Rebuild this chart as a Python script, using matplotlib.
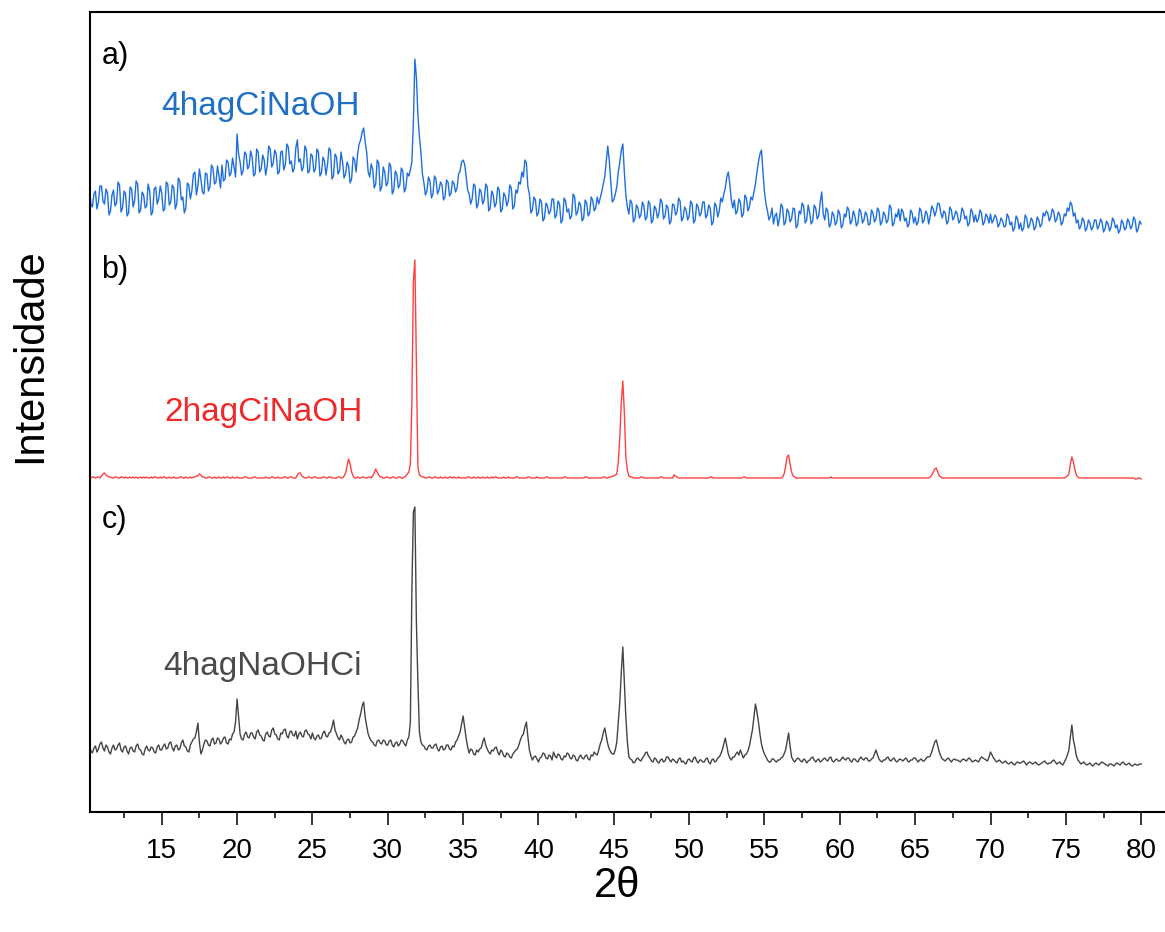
import numpy as np
import matplotlib
matplotlib.use("Agg")
import matplotlib.pyplot as plt
from matplotlib.ticker import MultipleLocator

# 2-theta grid (degrees), 0.1 deg step from 10 to 80
two_theta = np.round(np.arange(10.0, 80.0001, 0.1), 1)

# a) 4hagCiNaOH  (one row per degree)
int_4hagCiNaOH = [
    112, 121, 124, 108, 105, 118, 121, 103, 110, 126,
    126, 111, 108, 123, 119, 97, 101, 117, 122, 106,
    109, 130, 127, 100, 104, 121, 118, 96, 99, 125,
    123, 105, 111, 131, 128, 99, 102, 120, 117, 104,
    106, 128, 121, 97, 100, 123, 125, 108, 113, 126,
    119, 101, 103, 130, 128, 107, 110, 127, 124, 103,
    108, 134, 131, 112, 115, 99, 104, 129, 127, 113,
    121, 138, 140, 117, 126, 143, 133, 120, 118, 139,
    138, 121, 125, 147, 144, 128, 130, 146, 136, 124,
    147, 131, 133, 152, 150, 136, 139, 154, 145, 135,
    178, 158, 150, 137, 141, 160, 158, 143, 146, 161,
    155, 136, 138, 163, 160, 140, 143, 157, 152, 137,
    146, 166, 163, 145, 149, 162, 158, 138, 140, 160,
    161, 142, 147, 168, 165, 148, 151, 140, 144, 164,
    172, 150, 153, 141, 145, 166, 162, 139, 141, 158,
    156, 140, 143, 163, 160, 136, 139, 155, 151, 137,
    147, 164, 162, 133, 136, 158, 155, 138, 141, 160,
    150, 134, 138, 150, 146, 129, 133, 155, 152, 140,
    158, 168, 172, 180, 184, 170, 160, 140, 135, 148,
    143, 124, 128, 152, 149, 121, 125, 145, 140, 126,
    129, 149, 146, 118, 122, 141, 138, 124, 127, 144,
    141, 120, 124, 139, 136, 142, 150, 190, 253, 235,
    197, 175, 160, 138, 129, 117, 121, 135, 131, 114,
    118, 136, 133, 118, 122, 130, 127, 112, 115, 132,
    130, 116, 119, 131, 128, 120, 124, 138, 141, 150,
    152, 148, 136, 122, 118, 108, 113, 128, 126, 104,
    108, 123, 120, 108, 112, 128, 125, 101, 104, 121,
    117, 105, 109, 125, 122, 100, 103, 119, 116, 106,
    111, 127, 124, 103, 106, 122, 119, 130, 128, 140,
    135, 152, 149, 125, 118, 99, 102, 115, 112, 96,
    99, 113, 110, 91, 94, 109, 106, 98, 101, 113,
    113, 94, 97, 111, 108, 89, 92, 114, 111, 100,
    103, 93, 96, 118, 115, 97, 100, 110, 107, 91,
    94, 112, 109, 96, 99, 115, 112, 101, 104, 115,
    108, 114, 120, 128, 135, 150, 166, 152, 130, 110,
    112, 118, 125, 140, 150, 162, 168, 140, 117, 105,
    98, 112, 109, 90, 93, 107, 104, 94, 97, 110,
    106, 92, 95, 111, 108, 89, 92, 106, 103, 94,
    99, 113, 110, 93, 96, 107, 104, 88, 91, 108,
    107, 97, 100, 114, 111, 91, 94, 105, 102, 92,
    96, 111, 108, 89, 92, 108, 105, 96, 99, 110,
    110, 94, 97, 107, 104, 87, 90, 109, 106, 95,
    101, 114, 110, 118, 124, 135, 140, 128, 112, 104,
    112, 98, 101, 113, 110, 95, 98, 117, 114, 101,
    105, 115, 112, 120, 128, 140, 150, 158, 162, 140,
    120, 108, 101, 92, 96, 104, 88, 96, 99, 86,
    94, 108, 105, 87, 90, 103, 100, 90, 93, 104,
    103, 84, 87, 101, 98, 109, 106, 89, 92, 107,
    99, 88, 91, 107, 104, 93, 96, 110, 120, 98,
    92, 104, 101, 85, 88, 100, 97, 87, 90, 102,
    98, 84, 87, 98, 95, 105, 102, 88, 91, 101,
    96, 86, 89, 103, 100, 89, 92, 100, 97, 87,
    88, 102, 99, 90, 93, 104, 101, 87, 90, 100,
    97, 89, 92, 107, 104, 86, 89, 98, 95, 103,
    91, 103, 100, 91, 94, 85, 88, 102, 99, 89,
    95, 87, 90, 104, 101, 89, 92, 101, 98, 88,
    96, 106, 103, 96, 101, 109, 108, 99, 94, 101,
    99, 88, 91, 105, 102, 92, 95, 101, 98, 89,
    92, 104, 101, 93, 96, 86, 89, 103, 100, 90,
    97, 90, 93, 102, 99, 87, 90, 98, 95, 89,
    98, 89, 92, 97, 94, 85, 88, 94, 91, 85,
    86, 98, 95, 87, 90, 81, 84, 96, 93, 83,
    89, 81, 84, 97, 94, 84, 87, 94, 91, 82,
    85, 95, 92, 85, 88, 99, 96, 101, 99, 91,
    95, 103, 100, 90, 93, 100, 97, 87, 90, 98,
    96, 104, 101, 110, 107, 96, 99, 89, 92, 83,
    86, 94, 91, 81, 84, 92, 89, 82, 85, 92,
    92, 83, 86, 93, 90, 80, 83, 91, 88, 81,
    85, 94, 91, 84, 87, 79, 82, 92, 89, 82,
    84, 93, 90, 83, 86, 95, 92, 80, 83, 91,
    88,
]

# b) 2hagCiNaOH
int_2hagCiNaOH = [
    34, 35, 34, 34, 35, 35, 34, 35, 35, 34,
    36, 38, 39, 37, 36, 35, 35, 34, 34, 35,
    35, 34, 34, 35, 35, 34, 35, 34, 34, 35,
    34, 35, 34, 35, 34, 34, 35, 34, 35, 34,
    35, 34, 34, 35, 34, 35, 35, 34, 34, 35,
    34, 35, 35, 34, 34, 35, 34, 34, 35, 34,
    34, 34, 35, 35, 34, 34, 35, 34, 34, 35,
    34, 35, 35, 36, 36, 38, 37, 35, 35, 34,
    34, 35, 35, 34, 34, 35, 34, 34, 35, 34,
    34, 35, 34, 35, 35, 34, 34, 35, 34, 34,
    35, 34, 34, 34, 34, 35, 35, 34, 34, 34,
    34, 35, 35, 34, 34, 34, 34, 34, 34, 35,
    34, 34, 34, 35, 35, 34, 34, 35, 34, 34,
    34, 35, 35, 34, 34, 35, 35, 34, 34, 34,
    37, 39, 39, 36, 35, 34, 34, 35, 35, 34,
    34, 35, 35, 34, 34, 34, 34, 35, 35, 34,
    34, 35, 35, 34, 34, 34, 34, 35, 35, 34,
    34, 36, 39, 46, 53, 48, 40, 36, 34, 34,
    35, 34, 34, 35, 35, 34, 34, 35, 35, 34,
    36, 39, 43, 40, 37, 35, 35, 34, 34, 35,
    35, 34, 34, 35, 35, 34, 34, 35, 35, 34,
    34, 35, 36, 38, 40, 48, 110, 230, 252, 150,
    45, 37, 36, 35, 35, 34, 34, 35, 35, 34,
    34, 35, 35, 34, 34, 35, 34, 34, 35, 34,
    34, 35, 35, 34, 35, 34, 34, 35, 34, 34,
    34, 34, 34, 35, 35, 34, 34, 35, 34, 34,
    35, 34, 34, 35, 34, 34, 35, 34, 34, 35,
    34, 35, 35, 34, 34, 34, 34, 35, 34, 34,
    35, 34, 34, 34, 34, 35, 35, 34, 34, 34,
    34, 34, 34, 35, 35, 34, 34, 34, 34, 35,
    34, 34, 34, 34, 34, 35, 35, 34, 34, 34,
    34, 34, 34, 34, 34, 34, 34, 35, 35, 34,
    34, 34, 34, 34, 34, 34, 34, 34, 34, 34,
    34, 35, 35, 34, 34, 34, 34, 34, 34, 34,
    34, 34, 34, 35, 35, 34, 34, 35, 35, 36,
    36, 37, 38, 50, 75, 110, 131, 100, 55, 42,
    36, 35, 35, 34, 34, 34, 34, 34, 35, 35,
    34, 34, 34, 34, 34, 34, 34, 34, 34, 34,
    34, 35, 35, 34, 34, 34, 34, 34, 34, 34,
    37, 36, 35, 34, 34, 34, 34, 34, 34, 34,
    34, 34, 34, 34, 34, 34, 34, 34, 34, 34,
    34, 34, 34, 34, 35, 35, 34, 34, 34, 34,
    34, 34, 34, 34, 34, 34, 34, 34, 34, 34,
    34, 34, 34, 34, 34, 34, 35, 35, 34, 34,
    34, 34, 34, 34, 34, 34, 34, 34, 34, 34,
    34, 34, 34, 34, 34, 34, 34, 34, 34, 34,
    34, 34, 35, 38, 45, 55, 57, 48, 40, 36,
    35, 34, 34, 34, 34, 34, 34, 34, 34, 34,
    34, 34, 34, 34, 34, 34, 34, 34, 34, 34,
    34, 34, 34, 34, 35, 34, 34, 34, 34, 34,
    34, 34, 34, 34, 34, 34, 34, 34, 34, 34,
    34, 34, 34, 34, 34, 34, 34, 34, 34, 34,
    34, 34, 34, 34, 34, 34, 34, 34, 34, 34,
    34, 34, 34, 34, 34, 34, 34, 34, 34, 34,
    34, 34, 34, 34, 34, 34, 34, 34, 34, 34,
    34, 34, 34, 34, 34, 34, 34, 34, 34, 34,
    35, 37, 40, 43, 44, 40, 36, 35, 34, 34,
    34, 34, 34, 34, 34, 34, 34, 34, 34, 34,
    34, 34, 34, 34, 34, 34, 34, 34, 34, 34,
    34, 34, 34, 34, 34, 34, 34, 34, 34, 34,
    34, 34, 34, 34, 34, 34, 34, 34, 34, 34,
    34, 34, 34, 34, 34, 34, 34, 34, 34, 34,
    34, 34, 34, 34, 34, 34, 34, 34, 34, 34,
    34, 34, 34, 34, 34, 34, 34, 34, 34, 34,
    34, 34, 34, 34, 34, 34, 34, 34, 34, 34,
    35, 36, 38, 48, 55, 50, 42, 37, 35, 34,
    34, 34, 34, 34, 34, 34, 34, 34, 34, 34,
    34, 34, 34, 34, 34, 34, 34, 34, 34, 34,
    34, 34, 34, 34, 34, 34, 34, 34, 34, 34,
    34, 34, 34, 34, 34, 34, 33, 33, 34, 34,
    33,
]

# c) 4hagNaOHCi
int_4hagNaOHCi = [
    62, 66, 68, 61, 59, 64, 66, 60, 63, 68,
    70, 64, 61, 67, 65, 60, 58, 64, 67, 62,
    63, 67, 69, 62, 60, 65, 66, 61, 58, 64,
    65, 61, 60, 66, 68, 63, 62, 58, 57, 63,
    66, 62, 61, 65, 64, 60, 59, 65, 67, 62,
    62, 66, 68, 63, 64, 69, 70, 64, 61, 66,
    67, 62, 63, 69, 72, 66, 65, 61, 60, 67,
    70, 73, 74, 80, 89, 70, 58, 62, 68, 72,
    71, 67, 66, 72, 74, 68, 69, 74, 73, 68,
    70, 74, 75, 69, 68, 73, 72, 78, 80, 90,
    113, 95, 78, 73, 72, 78, 80, 75, 74, 79,
    79, 75, 73, 80, 82, 77, 76, 72, 71, 78,
    80, 76, 75, 82, 84, 78, 77, 73, 72, 79,
    78, 82, 83, 76, 74, 80, 81, 77, 76, 81,
    73, 78, 80, 76, 75, 81, 82, 78, 77, 73,
    79, 74, 72, 76, 77, 73, 74, 79, 81, 76,
    75, 79, 80, 85, 92, 82, 78, 74, 72, 77,
    74, 70, 68, 72, 73, 69, 70, 75, 76, 80,
    84, 92, 98, 106, 110, 95, 86, 78, 74, 71,
    70, 67, 66, 71, 72, 69, 68, 72, 71, 67,
    67, 71, 72, 67, 65, 69, 70, 66, 68, 72,
    71, 68, 66, 72, 75, 90, 220, 300, 305, 190,
    130, 80, 70, 67, 66, 63, 62, 66, 67, 64,
    64, 67, 68, 63, 61, 65, 66, 62, 63, 67,
    67, 63, 62, 66, 65, 70, 72, 76, 80, 88,
    96, 85, 74, 65, 59, 63, 62, 58, 57, 62,
    60, 63, 64, 70, 74, 67, 63, 60, 58, 62,
    61, 64, 65, 60, 57, 62, 60, 56, 55, 59,
    58, 55, 54, 58, 60, 62, 63, 67, 72, 76,
    78, 85, 90, 75, 62, 56, 52, 55, 56, 53,
    50, 54, 55, 59, 58, 54, 53, 57, 56, 52,
    60, 56, 54, 58, 57, 53, 52, 56, 55, 59,
    58, 54, 53, 57, 56, 52, 51, 55, 57, 54,
    53, 56, 57, 53, 52, 57, 56, 60, 58, 57,
    62, 68, 72, 79, 84, 76, 68, 63, 60, 58,
    58, 62, 70, 90, 110, 140, 165, 130, 95, 70,
    55, 53, 52, 49, 50, 53, 54, 52, 51, 54,
    56, 59, 60, 56, 54, 51, 50, 54, 53, 50,
    49, 52, 53, 50, 51, 55, 55, 52, 50, 53,
    52, 50, 49, 53, 54, 50, 51, 49, 48, 52,
    53, 51, 50, 54, 55, 51, 49, 52, 52, 50,
    50, 53, 54, 50, 48, 52, 53, 50, 51, 54,
    55, 58, 62, 68, 74, 66, 58, 54, 52, 55,
    55, 58, 60, 57, 62, 58, 54, 57, 58, 61,
    66, 74, 82, 95, 108, 100, 90, 78, 68, 62,
    58, 55, 52, 50, 50, 53, 53, 51, 50, 52,
    52, 54, 55, 58, 62, 70, 79, 66, 55, 52,
    50, 52, 54, 53, 51, 50, 53, 52, 49, 51,
    52, 54, 55, 52, 50, 52, 53, 50, 51, 53,
    54, 52, 51, 54, 55, 51, 50, 52, 53, 51,
    51, 53, 55, 53, 52, 54, 54, 51, 50, 53,
    53, 51, 50, 53, 55, 53, 52, 54, 54, 51,
    51, 53, 54, 58, 62, 57, 53, 51, 50, 52,
    52, 54, 55, 52, 51, 53, 54, 51, 50, 52,
    53, 52, 51, 53, 54, 51, 50, 52, 52, 54,
    54, 52, 50, 52, 53, 51, 51, 53, 55, 55,
    56, 60, 65, 70, 72, 66, 60, 56, 53, 52,
    51, 53, 54, 52, 50, 52, 53, 52, 52, 51,
    50, 52, 53, 52, 51, 53, 54, 52, 50, 51,
    52, 51, 50, 53, 55, 54, 53, 52, 51, 55,
    60, 57, 54, 52, 50, 51, 52, 50, 49, 50,
    51, 49, 48, 49, 50, 48, 47, 49, 50, 49,
    49, 50, 51, 49, 47, 49, 50, 49, 48, 49,
    50, 48, 47, 48, 49, 50, 51, 49, 48, 49,
    49, 51, 52, 50, 48, 49, 50, 48, 47, 50,
    53, 57, 62, 75, 87, 72, 65, 56, 52, 50,
    48, 49, 50, 48, 47, 48, 49, 47, 46, 48,
    49, 48, 47, 49, 50, 49, 48, 47, 46, 48,
    48, 47, 46, 48, 49, 48, 47, 49, 50, 48,
    47, 48, 49, 47, 46, 47, 48, 47, 47, 48,
    48,
]

# vertical stacking offsets for the three patterns
offset_a = 500
offset_b = 300
offset_c = 0

x_ticks = [15, 20, 25, 30, 35, 40, 45, 50, 55, 60, 65, 70, 75, 80]

plt.rcParams['font.family'] = ['Liberation Sans', 'DejaVu Sans']

W, H = 1165, 932
fig = plt.figure(figsize=(W / 100, H / 100), dpi=100)
ax = fig.add_axes([90 / W, 120 / H, 1075 / W, 800 / H])

blue = '#1e6fdc'
red = '#ff4040'
grey = '#444444'

ax.plot(two_theta, np.array(int_4hagCiNaOH) + offset_a, color=blue, lw=1.0)
ax.plot(two_theta, np.array(int_2hagCiNaOH) + offset_b, color=red, lw=1.0)
ax.plot(two_theta, np.array(int_4hagNaOHCi) + offset_c, color=grey, lw=1.0)

ax.set_xlim(10.24, 81.58)
ax.set_ylim(0, 800)

ax.set_xticks(x_ticks)
ax.xaxis.set_minor_locator(MultipleLocator(2.5))
ax.set_yticks([])
ax.tick_params(axis='x', which='major', length=9.4, width=1.1, labelsize=20, pad=9, direction='out')
ax.tick_params(axis='x', which='minor', length=4.5, width=1.1, direction='out')

for side in ('left', 'bottom', 'top'):
    ax.spines[side].set_linewidth(1.5)
ax.spines['right'].set_visible(False)

# axis titles
fig.text(617 / W, 1 - 886 / H, '2θ', fontsize=30, ha='center', va='center')
fig.text(30 / W, 1 - 356 / H, 'Intensidade', fontsize=30, ha='center', va='center', rotation=90)

ax.text(11.0, 756, 'a)', fontsize=22, va='center', ha='left', color='black')
ax.text(15.0, 706, '4hagCiNaOH', fontsize=24, va='center', ha='left', color='#1f6fc4')
ax.text(11.0, 542, 'b)', fontsize=22, va='center', ha='left', color='black')
ax.text(15.2, 400, '2hagCiNaOH', fontsize=24, va='center', ha='left', color='#ee2a2a')
ax.text(11.0, 292, 'c)', fontsize=22, va='center', ha='left', color='black')
ax.text(15.1, 146, '4hagNaOHCi', fontsize=24, va='center', ha='left', color='#4a4a4a')

fig.savefig('out.png', dpi=100)
